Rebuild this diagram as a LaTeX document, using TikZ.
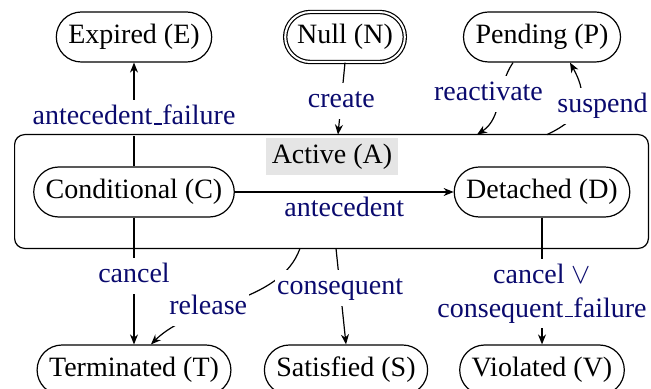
\documentclass[tikz,border=0pt]{standalone}
\usepackage{fontspec}
\setmainfont{Liberation Serif}
\usetikzlibrary{arrows.meta}
\definecolor{lblcol}{RGB}{10,10,110}
\newcommand{\uscore}{\leavevmode\kern.06em\vbox{\hrule width .3em height .6pt}}
\begin{document}
\begin{tikzpicture}[x=0.5pt,y=-0.5pt,
  every node/.style={font=\fontsize{14}{16.8}\selectfont},
  stbox/.style={draw, line width=0.6pt, rounded corners=12.5pt, minimum height=25pt, inner xsep=6pt},
  lblbase/.style={text=lblcol, fill=white, inner xsep=1pt, inner ysep=2.5pt},
  lbl/.style={lblbase, text height=10pt, text depth=3pt},
  conn/.style={draw, line width=0.6pt, -{Stealth[length=5pt,width=4pt]}},
  activebox/.style={draw, line width=0.6pt, rounded corners=5pt}]
\useasboundingbox (0,0) rectangle (651,389);
% states
\node[stbox] (E) at (134,37) {Expired (E)};
\node[stbox, double, double distance=1pt] (N) at (345,37) {Null (N)};
\node[stbox] (P) at (542,37) {Pending (P)};
\node[minimum width=316.5pt, minimum height=56.5pt, inner sep=0pt] (A) at (331.5,191.5) {};
\node[fill=gray!20, minimum width=66pt, minimum height=18.5pt, inner sep=0pt] (AL) at (332,156.5) {Active (A)};
\node[stbox] (C) at (134,192) {Conditional (C)};
\node[stbox] (D) at (542,192) {Detached (D)};
\node[stbox] (T) at (134,370) {Terminated (T)};
\node[stbox] (S) at (346,370) {Satisfied (S)};
\node[stbox] (V) at (542,370) {Violated (V)};
% connectors
\draw[conn] (C) -- node[lbl, pos=0.47] {antecedent\uscore failure} (E);
\draw[conn] (N.south) -- node[lbl, pos=0.53] {create} ([xshift=3.25pt]A.north);
\draw[conn] ([xshift=-14.5pt]P.south) .. controls +(-17,25) and +(26,-17) .. node[lbl, pos=0.4, xshift=-6pt] {reactivate} ([xshift=72.75pt]A.north);
\draw[conn] ([xshift=107.75pt]A.north) .. controls +(36,-17) and +(20,36) .. node[lbl, pos=0.5, xshift=11.5pt] {suspend} ([xshift=14pt]P.south);
\draw[conn] (C) -- node[below, text=lblcol, inner sep=2pt] {antecedent} (D);
\draw[conn] (C) -- node[lbl, pos=0.46] {cancel} (T);
\draw[conn] ([xshift=-15.75pt]A.south) .. controls +(-20,56) and +(42,-42) .. node[lbl, pos=0.62, xshift=-2pt, yshift=1pt] {release} ([xshift=8.5pt]T.north);
\draw[conn] ([xshift=2.25pt]A.south) -- node[lbl, pos=0.41] {consequent} (S.north);
\draw[conn] (D) -- node[lblbase, align=center, pos=0.6] {cancel $\vee$\\consequent\uscore failure} (V);
% active composite state border
\draw[activebox] (A.north west) rectangle (A.south east);
\end{tikzpicture}
\end{document}
